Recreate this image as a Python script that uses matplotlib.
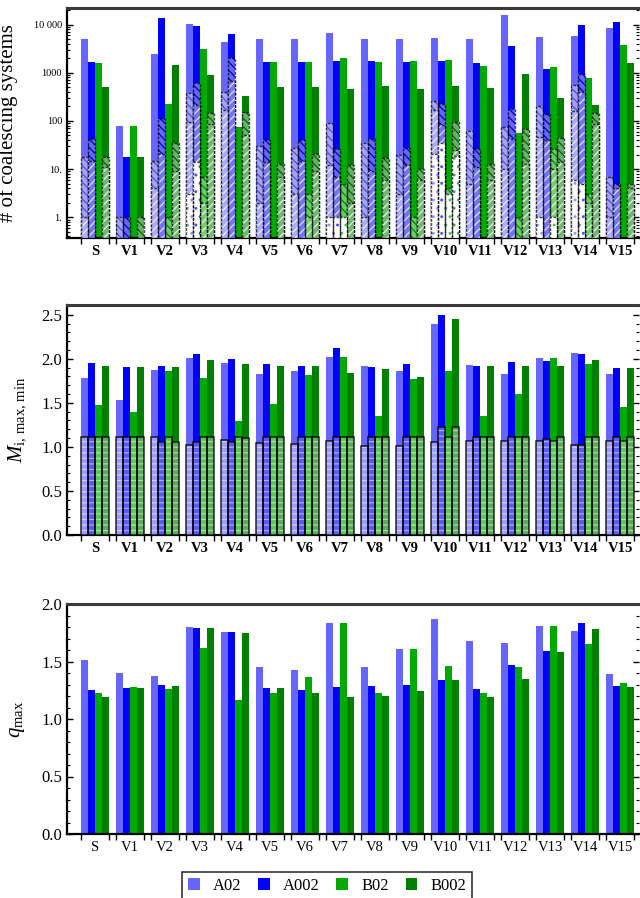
import numpy as np
import matplotlib
matplotlib.use('Agg')
import matplotlib.pyplot as plt
from matplotlib.patches import Patch
from matplotlib.ticker import FixedLocator, MultipleLocator, LogLocator, NullFormatter
from matplotlib.colors import to_rgb

plt.rcParams['font.family'] = ['Liberation Serif', 'DejaVu Serif']
plt.rcParams['mathtext.fontset'] = 'custom'
plt.rcParams['mathtext.rm'] = 'Liberation Serif'
plt.rcParams['mathtext.it'] = 'Liberation Serif:italic'
plt.rcParams['hatch.linewidth'] = 0.9

categories = ['S', 'V1', 'V2', 'V3', 'V4', 'V5', 'V6', 'V7', 'V8', 'V9',
              'V10', 'V11', 'V12', 'V13', 'V14', 'V15']
series = ['A02', 'A002', 'B02', 'B002']
colors = ['#6666ff', '#0000ff', '#00aa00', '#007f00']

# ---- top panel: number of coalescing systems (total and nested subsets) ----
n_tot_A02 = [5000, 78, 2440, 10200, 4270, 5000, 5000, 6650, 5000, 5000, 5250, 5000, 15700, 5500, 5760, 8450]
n_s1_A02 = [18, 1, 15, 373, 392, 30, 27, 89, 34, 20, 255, 62, 74, 200, 555, 7]
n_s2_A02 = [1, 0, 4, 93, 168, 2, 3, 12, 1, 3, 166, 5, 10, 46, 158, 1]
n_s3_A02 = [0, 0, 0, 3, 0, 0, 0, 1, 0, 0, 21, 0, 0, 1, 6, 0]

n_tot_A002 = [1670, 18, 13800, 9300, 6300, 1670, 1670, 1740, 1740, 1670, 1740, 1590, 3580, 1190, 9800, 11200]
n_s1_A002 = [42, 1, 108, 600, 1990, 41, 40, 26, 41.5, 28, 228, 26.5, 179, 137, 927, 5]
n_s2_A002 = [15, 0, 21, 214, 665, 14, 15, 7, 9, 12, 81, 11, 41.5, 40, 392, 4]
n_s3_A002 = [0, 0, 0, 14, 0, 0, 0, 1, 0, 0, 35, 0, 0, 0, 5, 0]

n_tot_B02 = [1590, 78, 224, 3150, 75, 1670, 1670, 2020, 1670, 1740, 1830, 1380, 57, 1310, 776, 3760]
n_s1_B02 = [0, 0, 1, 7, 0, 0, 3, 5, 0, 1, 4, 0, 1, 26.5, 3, 0]
n_s2_B02 = [0, 0, 0, 2, 0, 0, 1, 0, 0, 0, 0, 0, 0, 10, 2, 0]
n_s3_B02 = [0, 0, 0, 0, 0, 0, 0, 1, 0, 0, 3, 0, 0, 1, 0, 0]

n_tot_B002 = [505, 18, 1440, 895, 328, 505, 505, 460, 530, 460, 530, 480, 940, 297, 214, 1590]
n_s1_B002 = [18, 1, 34, 148, 155, 13, 21, 12, 17, 10, 96, 13, 67, 44, 144, 5]
n_s2_B002 = [11, 0, 9, 85, 50, 7, 9, 2, 6, 6, 25, 6, 13, 14, 86, 4]
n_s3_B002 = [0, 0, 0, 0, 0, 0, 0, 0, 0, 0, 19, 0, 0, 0, 0, 0]

# ---- middle panel: M_i max (solid) and min (hatched) ----
mmax_A02 = [1.786, 1.537, 1.876, 2.01, 1.955, 1.83, 1.865, 2.02, 1.92, 1.865, 2.395, 1.932, 1.83, 2.01, 2.068, 1.83]
mmax_A002 = [1.955, 1.91, 1.92, 2.056, 2.0, 1.944, 1.92, 2.124, 1.91, 1.944, 2.496, 1.92, 1.966, 1.977, 2.056, 1.90]
mmax_B02 = [1.47, 1.40, 1.865, 1.786, 1.29, 1.49, 1.82, 2.02, 1.346, 1.774, 1.865, 1.346, 1.605, 2.01, 1.944, 1.447]
mmax_B002 = [1.92, 1.91, 1.91, 1.99, 1.944, 1.92, 1.92, 1.84, 1.887, 1.797, 2.451, 1.92, 1.92, 1.92, 1.99, 1.90]
mmin_A02 = [1.11, 1.11, 1.11, 1.026, 1.079, 1.04, 1.034, 1.064, 1.015, 1.015, 1.05, 1.064, 1.07, 1.068, 1.026, 1.064]
mmin_A002 = [1.11, 1.11, 1.053, 1.06, 1.053, 1.11, 1.11, 1.11, 1.11, 1.11, 1.226, 1.11, 1.11, 1.09, 1.023, 1.11]
mmin_B02 = [1.11, 1.11, 1.11, 1.11, 1.11, 1.11, 1.11, 1.11, 1.11, 1.11, 1.11, 1.11, 1.11, 1.068, 1.11, 1.07]
mmin_B002 = [1.11, 1.11, 1.06, 1.11, 1.105, 1.11, 1.11, 1.11, 1.11, 1.11, 1.23, 1.11, 1.11, 1.11, 1.11, 1.11]

# ---- bottom panel: q_max ----
q_A02 = [1.511, 1.397, 1.371, 1.80, 1.755, 1.45, 1.424, 1.834, 1.45, 1.607, 1.869, 1.677, 1.659, 1.808, 1.764, 1.389]
q_A002 = [1.249, 1.266, 1.30, 1.79, 1.755, 1.266, 1.249, 1.275, 1.284, 1.30, 1.336, 1.258, 1.467, 1.59, 1.834, 1.284]
q_B02 = [1.223, 1.278, 1.258, 1.616, 1.162, 1.223, 1.362, 1.834, 1.223, 1.607, 1.458, 1.223, 1.45, 1.808, 1.65, 1.31]
q_B002 = [1.188, 1.266, 1.284, 1.79, 1.747, 1.266, 1.223, 1.188, 1.197, 1.24, 1.336, 1.188, 1.345, 1.58, 1.78, 1.275]

top_data = [
    (n_tot_A02, n_s1_A02, n_s2_A02, n_s3_A02),
    (n_tot_A002, n_s1_A002, n_s2_A002, n_s3_A002),
    (n_tot_B02, n_s1_B02, n_s2_B02, n_s3_B02),
    (n_tot_B002, n_s1_B002, n_s2_B002, n_s3_B002),
]
mid_data = [(mmax_A02, mmin_A02), (mmax_A002, mmin_A002), (mmax_B02, mmin_B02), (mmax_B002, mmin_B002)]
bot_data = [q_A02, q_A002, q_B02, q_B002]

W, H = 640, 898
fig = plt.figure(figsize=(W / 100, H / 100), dpi=100)


def rect(top, bottom, left=67, right=639):
    return [left / W, 1 - bottom / H, (right - left) / W, (bottom - top) / H]


def mix(c, f):
    r = np.array(to_rgb(c))
    return tuple(r + (1 - r) * f)


def darker(c, f):
    r = np.array(to_rgb(c))
    return tuple(r * f)


x = np.arange(len(categories))
bw = 0.2
offs = [-0.3, -0.1, 0.1, 0.3]


def style(ax, bold=True):
    ax.set_xlim(-0.8, 15.54)
    for s in ['left', 'bottom']:
        ax.spines[s].set_linewidth(1.6)
        ax.spines[s].set_color('k')
    ax.spines['top'].set_linewidth(2.2)
    ax.spines['top'].set_color('#3a3a3a')
    ax.spines['right'].set_visible(False)
    ax.set_xticks(x)
    ax.set_xticklabels(categories, fontsize=10.5, fontweight='bold' if bold else 'normal')
    ax.set_xticks(np.concatenate([x - 0.4, x + 0.4]), minor=True)
    ax.tick_params(axis='x', which='major', length=0, pad=5)
    ax.tick_params(axis='x', which='minor', length=4, width=1.0, direction='out', top=False)
    ax.tick_params(axis='y', which='both', direction='in', right=True, left=True)
    ax.tick_params(axis='y', which='major', length=4, width=1.0)
    ax.tick_params(axis='y', which='minor', length=2, width=0.8)


# ---------------- top panel ----------------
ax1 = fig.add_axes(rect(8, 238))
ax1.set_yscale('log')
ylo, yhi = 0.372, 22000
ax1.set_ylim(ylo, yhi)
outline = (0, 0, 0, 0.75)
for k, (tot, s1, s2, s3) in enumerate(top_data):
    c = colors[k]
    xs = x + offs[k]
    tot, s1, s2, s3 = map(np.asarray, (tot, s1, s2, s3))
    ax1.bar(xs, tot - ylo, bottom=ylo, width=bw, color=c, linewidth=0, zorder=2)
    m = s1 > 0
    ax1.bar(xs[m], s1[m] - ylo, bottom=ylo, width=bw, color=mix(c, 0.4),
            edgecolor=darker(c, 0.8), linewidth=0, hatch='\\\\\\\\', zorder=3)
    ax1.bar(xs[m], s1[m] - ylo, bottom=ylo, width=bw, fill=False, edgecolor=outline,
            linewidth=1.0, linestyle=(0, (2, 1)), zorder=3.5)
    m = s2 > 0
    ax1.bar(xs[m], s2[m] - ylo, bottom=ylo, width=bw, color=mix(c, 0.45),
            edgecolor=(1, 1, 1, 0.8), linewidth=0, hatch='////', zorder=4)
    ax1.bar(xs[m], s2[m] - ylo, bottom=ylo, width=bw, fill=False, edgecolor=outline,
            linewidth=1.0, linestyle=(0, (2, 1)), zorder=4.5)
    m = s3 > 0
    ax1.bar(xs[m], s3[m] - ylo, bottom=ylo, width=bw, color='white',
            edgecolor=mix(c, 0.3), linewidth=0, hatch='..', zorder=5)
    ax1.bar(xs[m], s3[m] - ylo, bottom=ylo, width=bw, fill=False, edgecolor=outline,
            linewidth=1.0, linestyle=(0, (2, 1)), zorder=5.5)
style(ax1, bold=True)
ax1.yaxis.set_major_locator(FixedLocator([1, 10, 100, 1000, 10000]))
ax1.set_yticklabels(['1.', '10.', '100', '1000', '10 000'], fontsize=7.5)
ax1.yaxis.set_minor_locator(LogLocator(base=10, subs=np.arange(2, 10)))
ax1.yaxis.set_minor_formatter(NullFormatter())
ax1.set_ylabel('# of coalescing systems', fontsize=15)
ax1.yaxis.set_label_coords(-0.085, 0.5)

# ---------------- middle panel ----------------
ax2 = fig.add_axes(rect(305, 535))
ax2.set_ylim(0, 2.61)
for k, (mx, mn) in enumerate(mid_data):
    c = colors[k]
    xs = x + offs[k]
    ax2.bar(xs, mx, width=bw, color=c, linewidth=0, zorder=2)
    ax2.bar(xs, mn, width=bw, color=mix(c, 0.35), edgecolor=(1, 1, 1, 0.5),
            linewidth=0, hatch='---', zorder=3)
    ax2.bar(xs, mn, width=bw, fill=False, edgecolor=(0, 0, 0, 0.85), linewidth=1.1, zorder=3.5)
style(ax2, bold=True)
ax2.set_yticks([0, 0.5, 1.0, 1.5, 2.0, 2.5])
ax2.set_yticklabels(['0.0', '0.5', '1.0', '1.5', '2.0', '2.5'], fontsize=12)
ax2.yaxis.set_minor_locator(MultipleLocator(0.1))
ax2.set_ylabel(r'$M_{\mathrm{i,\,max,\,min}}$', fontsize=15)
ax2.yaxis.set_label_coords(-0.068, 0.5)

# ---------------- bottom panel ----------------
ax3 = fig.add_axes(rect(604, 834))
ax3.set_ylim(0, 2.0)
for k, q in enumerate(bot_data):
    ax3.bar(x + offs[k], q, width=bw, color=colors[k], linewidth=0, zorder=2)
style(ax3, bold=False)
ax3.set_yticks([0, 0.5, 1.0, 1.5, 2.0])
ax3.set_yticklabels(['0.0', '0.5', '1.0', '1.5', '2.0'], fontsize=12)
ax3.yaxis.set_minor_locator(MultipleLocator(0.1))
ax3.set_ylabel(r'$q_{\mathrm{max}}$', fontsize=15)
ax3.yaxis.set_label_coords(-0.07, 0.5)

# ---------------- legend ----------------
handles = [Patch(facecolor=colors[k], edgecolor='none') for k in range(4)]
leg = fig.legend(handles, series, ncol=4, loc='upper left',
                 bbox_to_anchor=(182 / W, 1 - 872 / H), frameon=True, fancybox=False,
                 edgecolor='k', handlelength=0.7, handleheight=0.7, handletextpad=0.8,
                 columnspacing=1.0, fontsize=12, borderaxespad=0, borderpad=0.35)
leg.get_frame().set_linewidth(1.2)

fig.savefig('out.png', dpi=100)
